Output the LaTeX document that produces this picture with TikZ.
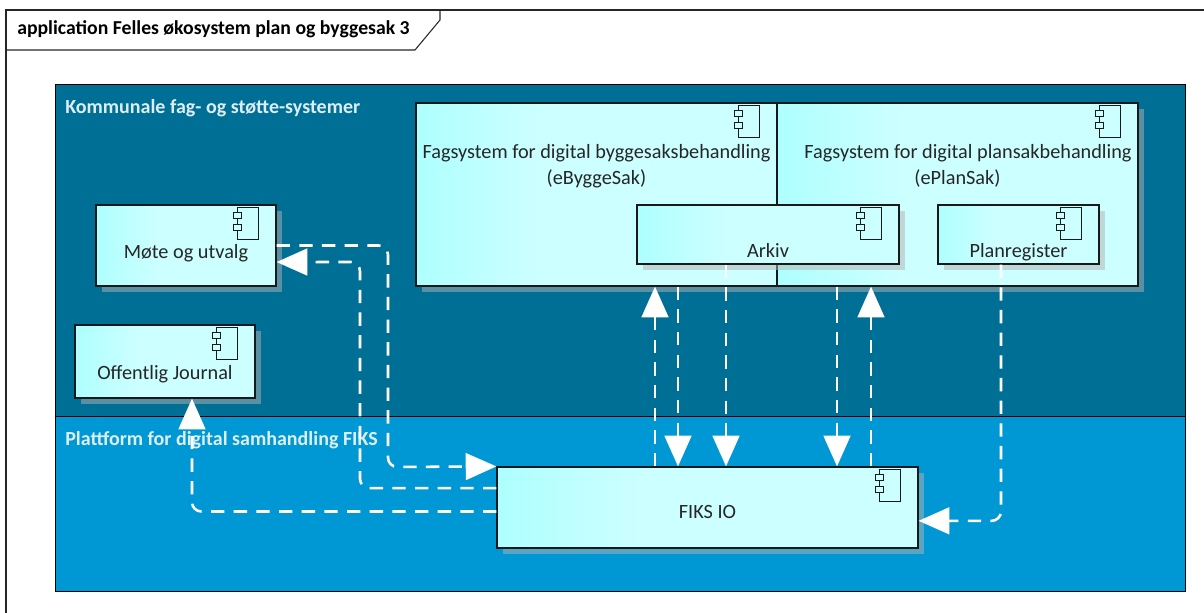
\documentclass[tikz,border=0pt]{standalone}
\usepackage{fontspec}
\setmainfont{Carlito}
\usetikzlibrary{arrows.meta,shadows}

\definecolor{darkgroup}{HTML}{006F96}
\definecolor{lightgroup}{HTML}{0098D4}
\definecolor{compleft}{HTML}{AEFFFF}
\definecolor{compright}{HTML}{CCFFFF}
\definecolor{grouptext}{HTML}{DCEEF4}
\pgfdeclarehorizontalshading{compfill}{100bp}{color(0bp)=(compleft); color(25bp)=(compleft); color(42bp)=(compright); color(100bp)=(compright)}

\begin{document}
\begin{tikzpicture}[
    x=0.75pt, y=-0.75pt,
    group/.style={draw=black, line width=0.7pt, minimum width=847.5pt},
    grouplabel/.style={anchor=west, inner sep=0pt, text=grouptext, font=\fontsize{15}{17}\selectfont\bfseries},
    comp/.style={draw=black!90, line width=0.9pt, shading=compfill, text=black!85, inner sep=0pt,
                 font=\fontsize{15.2}{19.5}\selectfont, align=center, text depth=0pt,
                 drop shadow={shadow xshift=4.5pt, shadow yshift=-4.5pt, fill=black!30, opacity=0.5}},
    dep/.style={draw=white, line width=1.9pt, dash pattern=on 10pt off 7pt, rounded corners=7pt,
                -{Triangle[length=23pt, width=20pt, fill=white]}}
]
    \useasboundingbox (0,0) rectangle (1204,613);

    % frame and tab
    \draw[black!85, line width=0.8pt] (1204,10) -- (6,10) -- (6,613);
    \draw[black!85, line width=0.8pt] (6,50) -- (415,50) -- (440,20) -- (440,10);
    \node[anchor=west, inner sep=0pt, font=\fontsize{14.8}{17}\selectfont\bfseries] (title) at (17,29) {application Felles økosystem plan og byggesak 3};

    % groups
    \node[group, fill=darkgroup, minimum height=249pt] (kommune) at (620,250) {};
    \node[group, fill=lightgroup, minimum height=131.25pt] (fiksgroup) at (620,503.5) {};
    \node[grouplabel] (kommunelabel) at (65,108) {Kommunale fag- og støtte-systemer};
    \node[grouplabel] (fikslabel) at (65,440) {Plattform for digital samhandling FIKS};

    % components
    \node[comp, minimum width=135pt, minimum height=60.75pt, text height=19.5pt] (mote) at (186,245.5) {Møte og utvalg};
    \node[comp, minimum width=135pt, minimum height=54.75pt, text height=26.5pt] (journal) at (165,361.5) {Offentlig Journal};
    \node[comp, minimum width=270.75pt, minimum height=137.25pt, text depth=45.5pt] (bygg) at (596.5,194.5) {Fagsystem for digital byggesaksbehandling\\(eByggeSak)};
    \node[comp, minimum width=270.75pt, minimum height=137.25pt, text depth=45.5pt] (plan) at (957.5,194.5) {\hspace*{15.75pt}Fagsystem for digital plansakbehandling\\(ePlanSak)};
    \node[comp, minimum width=196.5pt, minimum height=44.25pt, text height=34.5pt] (arkiv) at (768,234.5) {Arkiv};
    \node[comp, minimum width=120.75pt, minimum height=44.25pt, text height=34.5pt] (planreg) at (1018.5,234.5) {Planregister};
    \node[comp, minimum width=315.75pt, minimum height=60.75pt, text height=16pt] (fiks) at (707.5,507.5) {FIKS IO};

    % component icons
    \foreach \c in {mote,journal,bygg,plan,arkiv,planreg,fiks} {
        \begin{scope}[shift={(\c.north east)}, black!90, line width=0.8pt]
            \draw (-39,3) rectangle (-18,35);
            \draw[fill=compright] (-43,8) rectangle (-35,14);
            \draw[fill=compright] (-43,20) rectangle (-35,26);
        \end{scope}
    }

    % dependencies
    \draw[dep] (mote.east) -| (388,467) -- (fiks.north west);
    \draw[dep] ([yshift=14.5pt]fiks.west) -| (360,262) -- ([yshift=-12.4pt]mote.east);
    \draw[dep] ([yshift=-3pt]fiks.west) -| (192,0 |- journal.south);
    \draw[dep] (655,0 |- fiks.north) -- (655,0 |- bygg.south);
    \draw[dep] (678,0 |- bygg.south) -- (678,0 |- fiks.north);
    \draw[dep] (726,0 |- arkiv.south) -- (726,0 |- fiks.north);
    \draw[dep] (837,0 |- plan.south) -- (837,0 |- fiks.north);
    \draw[dep] (871,0 |- fiks.north) -- (871,0 |- plan.south);
    \draw[dep] (1001,0 |- planreg.south) |- ([yshift=-10pt]fiks.east);
\end{tikzpicture}
\end{document}
